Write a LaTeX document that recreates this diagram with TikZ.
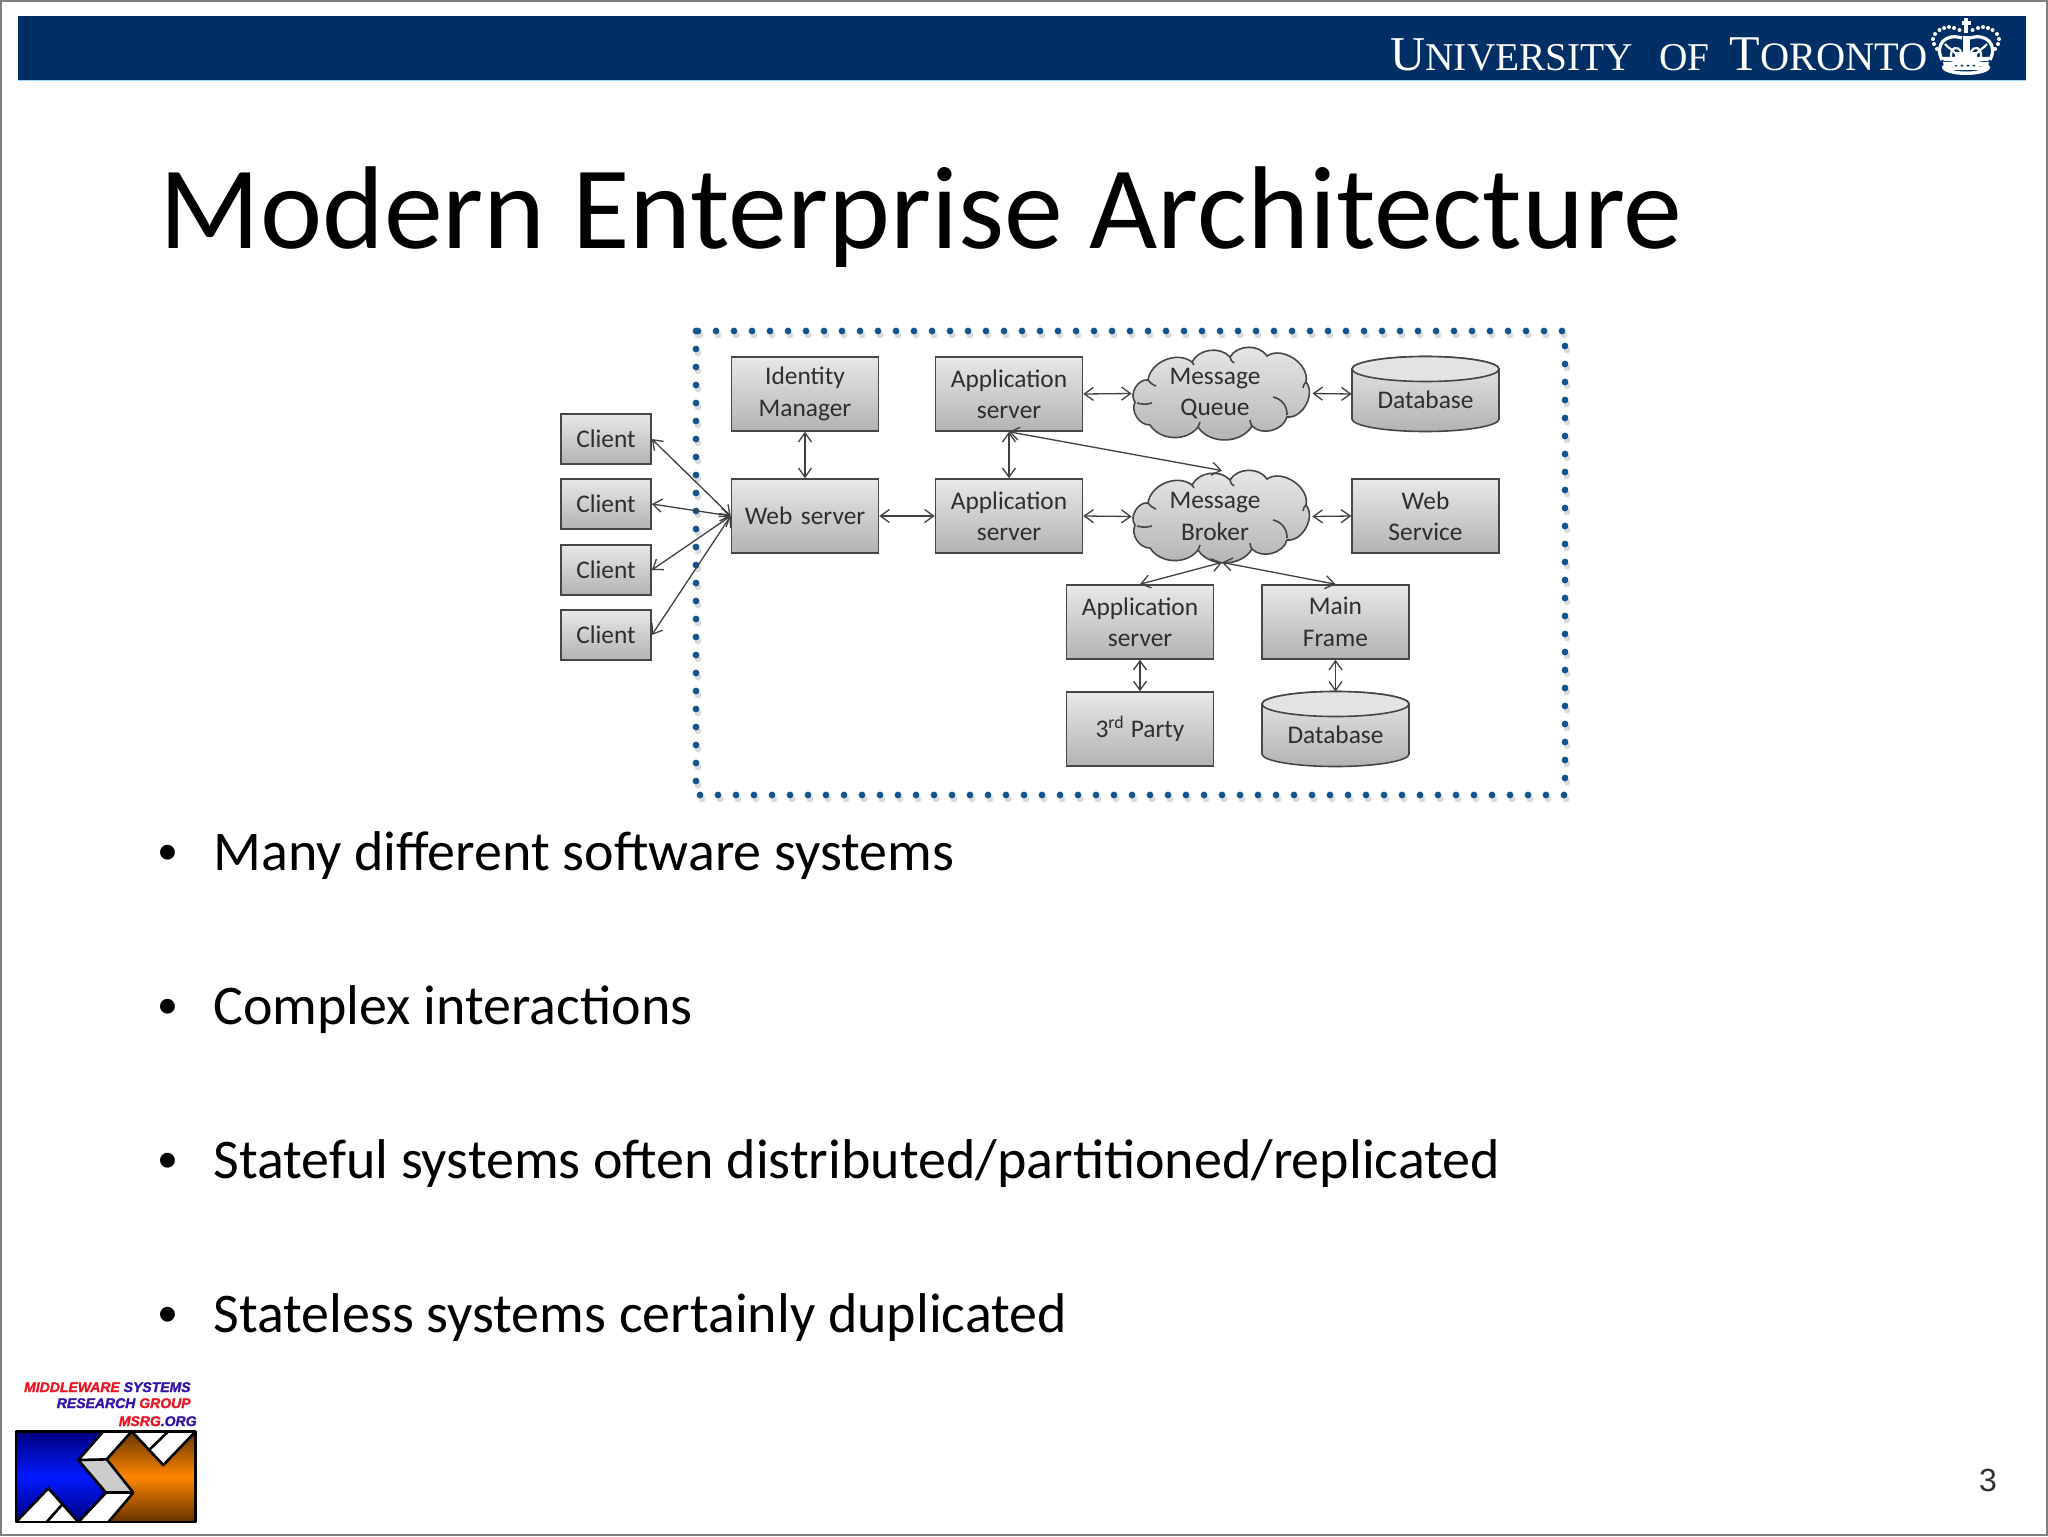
\documentclass[tikz,border=0pt]{standalone}
\usepackage{fontspec}
\usetikzlibrary{arrows.meta}
\setmainfont{Carlito}
\newfontfamily\headfont{Liberation Serif}
\newfontfamily\pagefont{Liberation Sans}
\newfontfamily\logofont[BoldItalicFeatures={FakeBold=1.6}]{Liberation Sans}
\definecolor{navy}{RGB}{0,47,101}
\definecolor{dotblue}{RGB}{20,85,145}
\definecolor{boxline}{RGB}{70,70,70}
\definecolor{boxtext}{RGB}{45,45,50}
\definecolor{logored}{RGB}{235,20,35}
\definecolor{logoblue}{RGB}{50,20,170}
\tikzset{
  x=0.5pt,y=-0.5pt,
  boxnode/.style={draw=boxline,line width=0.8pt,top color=black!9,bottom color=black!30,
    text=boxtext,align=center,inner sep=0pt,font=\fontsize{12.7}{15.7}\selectfont},
  bwide/.style={boxnode,minimum width=73.5pt,minimum height=37pt,text width=72pt},
  bclient/.style={boxnode,minimum width=45pt,minimum height=25pt},
  ghost/.style={inner sep=0pt,text=boxtext,align=center,font=\fontsize{12.7}{15.7}\selectfont},
  cloudn/.style={ghost,minimum width=90pt,minimum height=45.5pt},
  dbn/.style={ghost,minimum width=73.5pt,minimum height=37pt},
  shapeline/.style={draw=boxline,line width=0.8pt},
  conn/.style={draw=black!75,line width=0.65pt,{Straight Barb[length=4.5pt,width=6.5pt]}-{Straight Barb[length=4.5pt,width=6.5pt]}},
  bullettext/.style={anchor=base west,inner sep=0pt,font=\fontsize{28}{32}\selectfont},
  bulletdot/.style={anchor=base,inner sep=0pt,font=\fontsize{21}{30}\selectfont},
  logotext/.style={anchor=base east,inner sep=0pt,font=\logofont\bfseries\itshape\fontsize{7}{8}\selectfont},
  logoline/.style={draw=black,line width=1.3pt,line join=round},
}
\newcommand{\cloudat}[2]{%
\begin{scope}[shift={(#1,#2)}]
  \path[shapeline,top color=black!9,bottom color=black!30]
    (-87,8) to[bend left=70] (-74,-14)
    to[bend left=60] (-30,-32)
    to[bend left=55] (8,-37)
    to[bend left=58] (45,-38)
    to[bend left=68] (84,-12)
    to[bend left=68] (65,23)
    to[bend left=60] (30,32)
    to[bend left=58] (-24,33)
    to[bend left=55] (-72,31)
    to[bend left=58] (-87,8) -- cycle;
  \draw[shapeline] (-74,-14) to[bend right=15] (-66,-8);
  \draw[shapeline] (-30,-32) to[bend left=10] (-28,-29);
  \draw[shapeline] (8,-37) to[bend right=25] (12,-31);
  \draw[shapeline] (84,-12) to[bend right=20] (81,-6);
  \draw[shapeline] (51,3) to[bend left=40] (65,21);
  \draw[shapeline] (-85,9) to[bend right=15] (-70,9);
  \draw[shapeline] (-24,33) to[bend right=15] (-22,28);
  \draw[shapeline] (30,32) to[bend left=15] (28,26);
\end{scope}}
\newcommand{\dbat}[2]{%
\begin{scope}[shift={(#1,#2)}]
  \path[shapeline,top color=black!9,bottom color=black!30]
    (-73.5,-25) -- (-73.5,25) arc[start angle=180,end angle=360,x radius=73.5,y radius=-12.5] -- (73.5,-25)
    arc[start angle=0,end angle=180,x radius=73.5,y radius=-12.5] -- cycle;
  \path[shapeline,fill=black!11] (0,-25) ellipse[x radius=73.5,y radius=12.5];
\end{scope}}
\begin{document}
\begin{tikzpicture}
\useasboundingbox (0,0) rectangle (2048,1536);
\fill[white] (0,0) rectangle (2048,1536);
\draw[black!50,line width=1pt] (1,1) rectangle (2047,1535);
% header
\fill[navy] (18,16) rectangle (2026,80);
\draw[blue!40!cyan!40,line width=0.4pt] (18,80) -- (2026,80);
\node[anchor=base west,inner sep=0pt,text=white] (uni) at (1390,71) {\headfont\fontsize{24.3}{28}\selectfont U\fontsize{19.7}{28}\selectfont NIVERSITY\hspace{13pt}OF\hspace{10pt}\fontsize{25}{28}\selectfont T\fontsize{20.2}{28}\selectfont ORONTO};
% crown
\begin{scope}[white]
  \fill (1964.3,18) rectangle (1967.7,33);
  \fill (1961.5,21.5) rectangle (1970.5,25);
  \foreach \px/\py in {1966/31, 1959.5/30, 1972.5/30, 1954/28, 1978/28, 1949/27, 1983/27, 1944/28, 1988/28, 1939.5/30, 1992.5/30, 1935/34, 1997/34, 1933/39, 1999/39, 1934/44, 1998/44, 1937/49, 1995/49}
    \fill (\px,\py) circle[radius=2];
  \draw[line width=1.6pt] (1942,60) .. controls (1934,44) and (1946,33) .. (1962,38);
  \draw[line width=1.6pt] (1990,60) .. controls (1998,44) and (1986,33) .. (1970,38);
  \draw[line width=1.1pt] (1945,44) .. controls (1950,50) and (1955,50) .. (1958,58);
  \draw[line width=1.1pt] (1987,44) .. controls (1982,50) and (1977,50) .. (1974,58);
  \draw[line width=1.1pt] (1951,58) .. controls (1950,47) and (1958,45) .. (1961,52);
  \draw[line width=1.1pt] (1981,58) .. controls (1982,47) and (1974,45) .. (1971,52);
  \fill (1962.5,36) rectangle (1969.5,58);
  \fill (1955,52) rectangle (1977,58);
  \fill (1941,57) -- (1991,57) -- (1988,61) -- (1944,61) -- cycle;
  \fill (1943,62) -- (1989,62) -- (1987,70) -- (1945,70) -- cycle;
  \foreach \px in {1950,1956,1962,1968,1974,1980}
    \fill[navy] (\px,65.5) circle[radius=1.4];
  \fill[even odd rule] (1966,67.5) ellipse[x radius=24,y radius=7.5] (1966,68) ellipse[x radius=16.5,y radius=3.5];
\end{scope}
% title
\node[anchor=base west,inner sep=0pt,font=\fontsize{58.9}{64}\selectfont] (title) at (159,248) {Modern Enterprise Architecture};
% dotted box
\draw[black!40,opacity=.35,line width=3.4pt,line cap=round,dash pattern=on 0pt off 9pt] (698,335) rectangle (1567,799);
\draw[dotblue,line width=3.4pt,line cap=round,dash pattern=on 0pt off 9pt] (696,331) rectangle (1565,795);
% shapes under named nodes
\cloudat{1222}{394}
\cloudat{1222}{517}
\dbat{1425.5}{394}
\dbat{1335.5}{729}
% nodes
\node[bclient] (c1) at (606,439) {Client};
\node[bclient] (c2) at (606,504) {Client};
\node[bclient] (c3) at (606,570) {Client};
\node[bclient] (c4) at (606,635) {Client};
\node[bwide] (idm) at (805,394) {Identity\\Manager};
\node[bwide] (web) at (805,516) {Web server};
\node[bwide] (app1) at (1009,394) {Application\\server};
\node[bwide] (app2) at (1009,516) {Application\\server};
\node[bwide] (app3) at (1140,622) {Application\\server};
\node[bwide] (third) at (1140,729) {3\textsuperscript{rd}\hspace{-1.2pt} Party};
\node[bwide] (main) at (1335.5,622) {Main\\Frame};
\node[bwide] (ws) at (1425.5,516) {Web\\Service};
\node[cloudn] (mq) at (1222,393.5) {\hspace*{-7pt}Message\\\hspace*{-7pt}Queue};
\node[cloudn] (mb) at (1222,516.5) {\hspace*{-7pt}Message\\\hspace*{-7pt}Broker};
\node[dbn] (db1) at (1425.5,394) {\raisebox{-7pt}[0pt][0pt]{Database}};
\node[dbn] (db2) at (1335.5,729) {\raisebox{-7pt}[0pt][0pt]{Database}};
% connectors
\foreach \c in {c1,c2,c3,c4} \draw[conn] (\c.east) -- (web.west);
\draw[conn] (idm.south) -- (web.north);
\draw[conn] (web.east) -- (app2.west);
\draw[conn] (app1.south) -- (app2.north);
\draw[conn] (app1.east) -- (mq.west);
\draw[conn] (app2.east) -- (mb.west);
\draw[conn] (mq.east) -- (db1.west);
\draw[conn] (mb.east) -- (ws.west);
\draw[conn] (app1.south) -- (mb.north);
\draw[conn] (mb.south) -- (app3.north);
\draw[conn] (mb.south) -- (main.north);
\draw[conn] (app3.south) -- (third.north);
\draw[conn] (main.south) -- (db2.north);
% bullets
\node[bulletdot] (b1) at (168,864) {•};
\node[bullettext] (t1) at (213,870) {Many different software systems};
\node[bulletdot] (b2) at (168,1018) {•};
\node[bullettext] (t2) at (213,1024) {Complex interactions};
\node[bulletdot] (b3) at (168,1172) {•};
\node[bullettext] (t3) at (213,1178) {Stateful systems often distributed/partitioned/replicated};
\node[bulletdot] (b4) at (168,1326) {•};
\node[bullettext] (t4) at (213,1332) {Stateless systems certainly duplicated};
% page number
\node[anchor=base,inner sep=0pt,font=\pagefont\fontsize{16}{18}\selectfont,text=black!80] (pg) at (1988,1491) {3};
% logo text
\node[logotext] (l1) at (191,1392) {\textcolor{logored}{MIDDLEWARE} \textcolor{logoblue}{SYSTEMS}};
\node[logotext] (l2) at (191,1408) {\textcolor{logoblue}{RESEARCH} \textcolor{logored}{GROUP}};
\node[logotext] (l3) at (197,1426) {\textcolor{logored}{MSRG}\textcolor{logoblue}{.ORG}};
% logo artwork
\begin{scope}[shift={(0,1360)},x=0.1667pt,y=-0.1667pt]
  \fill[white] (48,214) rectangle (587,486);
  \shade[top color=blue!50!black,bottom color=blue!50!black,middle color=blue!90!cyan]
    (48,214) -- (310,214) -- (235,300) -- (318,398) -- (235,486) -- (145,385) -- (48,486) -- cycle;
  \shade[top color=orange!40!black,bottom color=orange!40!black,middle color=orange!95!yellow]
    (395,214) -- (490,315) -- (587,214) -- (587,486) -- (325,486) -- (400,398) -- (320,298) -- cycle;
  \fill[black!20] (240,302) -- (318,302) -- (398,398) -- (318,398) -- cycle;
  \draw[logoline] (48,214) rectangle (587,486);
  \draw[logoline] (310,214) -- (235,300) -- (318,398) -- (235,486);
  \draw[logoline] (395,214) -- (320,298) -- (400,398) -- (325,486);
  \draw[logoline] (235,300) -- (320,298);
  \draw[logoline] (318,398) -- (400,398);
  \draw[logoline] (48,486) -- (145,385) -- (235,486);
  \draw[logoline] (185,435) -- (140,486);
  \draw[logoline] (395,214) -- (490,315) -- (587,214);
  \draw[logoline] (450,267) -- (505,214);
\end{scope}
\end{tikzpicture}
\end{document}
